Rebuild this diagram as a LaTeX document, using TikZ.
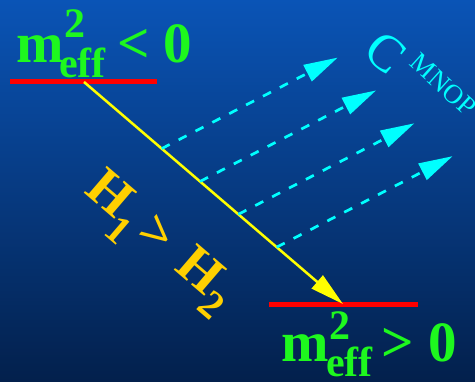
\documentclass[tikz,border=0pt]{standalone}
\usepackage{fontspec}
\setmainfont{Liberation Serif}
\usetikzlibrary{arrows.meta,calc}
\definecolor{bgtop}{RGB}{10,84,182}
\definecolor{bgbot}{RGB}{3,32,76}
\definecolor{mgreen}{RGB}{30,248,30}
\definecolor{hgold}{RGB}{255,208,0}
\definecolor{lred}{RGB}{255,0,0}
\definecolor{lyel}{RGB}{255,255,0}
\definecolor{lcyan}{RGB}{0,255,255}
\begin{document}
\begin{tikzpicture}[x=1pt,y=-1pt,
  gtxt/.style={text=mgreen, inner sep=0pt, anchor=base west},
  gbig/.style={gtxt, font=\fontsize{57}{60}\selectfont\bfseries},
  gsmall/.style={gtxt, font=\fontsize{42}{46}\selectfont\bfseries},
  htxt/.style={text=hgold, inner sep=0pt, anchor=base west},
  hbig/.style={htxt, font=\fontsize{54}{58}\selectfont\bfseries},
  hsmall/.style={htxt, font=\fontsize{40}{44}\selectfont\bfseries},
  redline/.style={draw=lred, line width=5pt},
  yelarrow/.style={draw=lyel, line width=2.5pt, -{Triangle[length=34pt,width=17pt]}},
  cyarrow/.style={draw=lcyan, line width=2.7pt, dash pattern=on 9pt off 10pt,
     -{Triangle[length=34pt,width=18pt]}}]
\shade[top color=bgtop,bottom color=bgbot] (0,0) rectangle (475,382);
\useasboundingbox (0,0) rectangle (475,382);
% red levels
\coordinate (r1a) at (10,82);
\coordinate (r1b) at (157,82);
\coordinate (r2a) at (269,305);
\coordinate (r2b) at (418,305);
\draw[redline] (r1a) -- (r1b);
\draw[redline] (r2a) -- (r2b);
% yellow arrow
\coordinate (ys) at (84,82);
\coordinate (ye) at (343,304);
\draw[yelarrow] (ys) -- (ye);
% cyan dashed arrows
\foreach \t [count=\i] in {0.300,0.448,0.596,0.744}{
  \coordinate (cs\i) at ($(ys)!\t!(ye)$);
  \coordinate (ce\i) at ($(cs\i)+(176,-91)$);
  \draw[cyarrow] (cs\i) -- (ce\i);
}
% top label
\node[gbig] (m1) at (16,63) {m};
\node[gsmall] (s1) at (64,38) {2};
\node[gsmall] (e1) at (59,78) {eff};
\node[gbig] (lt) at (117,63) {<};
\node[gbig] (z1) at (163,63) {0};
% bottom label
\node[gbig] (m2) at (281,362) {m};
\node[gsmall] (s2) at (329,340) {2};
\node[gsmall] (e2) at (326,377) {eff};
\node[gbig] (gt) at (381,362) {>};
\node[gbig] (z2) at (428.5,362) {0};
% H1 > H2
\begin{scope}[shift={(84.1,193.3)}, rotate=-40.6, transform shape]
\node[hbig] (h1) at (-1,0) {H};
\node[hsmall] (h1s) at (40,18) {1};
\node[hbig] (hg) at (66.5,0) {>};
\node[hbig] (h2) at (117,0) {H};
\node[hsmall] (h2s) at (160,15) {2};
\end{scope}
% C MNOP
\node[text=lcyan, inner sep=0pt, rotate=-40, font=\fontsize{52}{56}\selectfont] (cc) at (386,53) {C};
\node[text=lcyan, inner sep=0pt, rotate=-42, font=\fontsize{27}{31}\selectfont] (mnop) at (443.5,84.5) {MNOP};
\end{tikzpicture}
\end{document}
